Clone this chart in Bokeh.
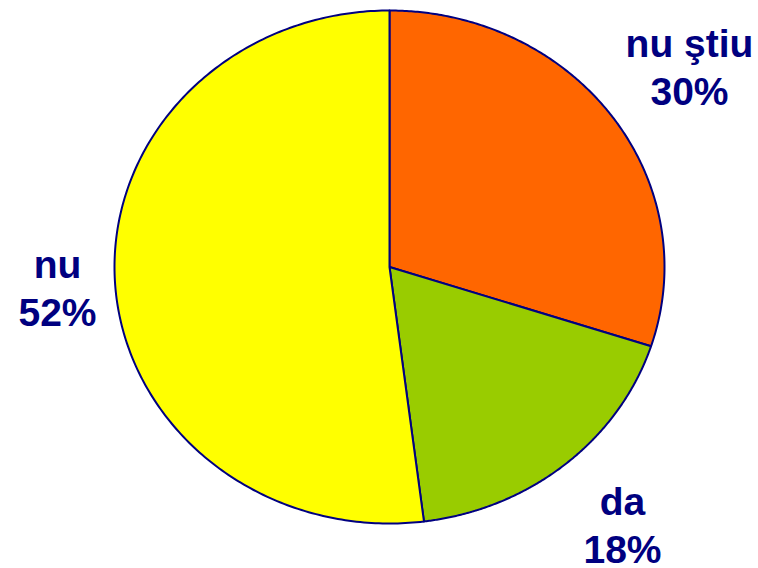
import numpy as np
from bokeh.plotting import figure
from bokeh.models import Range1d, ColumnDataSource
from bokeh.core.properties import value
from bokeh.embed import file_html
from bokeh.resources import INLINE

# Survey answers, clockwise from 12 o'clock
categories = ["nu ştiu", "da", "nu"]
percents = [30, 18, 52]
colors = ["#FF6600", "#99CC00", "#FFFF00"]

# Label anchors (pixel space: x, reference line of the name row)
label_x = [689, 622, 57]
label_y = [43, 501, 264]
line_gap = 48

W, H = 758, 568
cx, cy = 389, 266.5   # pie centre
rx, ry = 275, 256.5   # slightly oval pie

p = figure(width=W, height=H, output_backend="svg", toolbar_location=None,
           x_range=Range1d(0, W), y_range=Range1d(H, 0),
           min_border=0, outline_line_color=None)
p.axis.visible = False
p.grid.visible = False
p.background_fill_color = "white"
p.border_fill_color = "white"

xs, ys = [], []
start = 0.0
total = float(sum(percents))
for pc in percents:
    frac0 = start / total
    frac1 = (start + pc) / total
    t = np.linspace(frac0, frac1, 240) * 2 * np.pi
    # angle measured clockwise from the top; y grows downward
    px = cx + rx * np.sin(t)
    py = cy - ry * np.cos(t)
    xs.append([cx] + px.tolist())
    ys.append([cy] + py.tolist())
    start += pc

src = ColumnDataSource(dict(xs=xs, ys=ys, color=colors))
p.patches("xs", "ys", source=src, fill_color="color",
          line_color="#000080", line_width=2, line_join="round")

names_src = ColumnDataSource(dict(x=label_x, y=label_y, text=categories))
pct_src = ColumnDataSource(dict(x=label_x, y=[v + line_gap for v in label_y],
                                text=[f"{v}%" for v in percents]))
for s in (names_src, pct_src):
    p.text("x", "y", text="text", source=s,
           text_font=value("Liberation Sans"), text_font_style="bold",
           text_font_size="39px", text_color="#000080",
           text_align="center", text_baseline="alphabetic")

open("out.html", "w").write(file_html(p, INLINE))
